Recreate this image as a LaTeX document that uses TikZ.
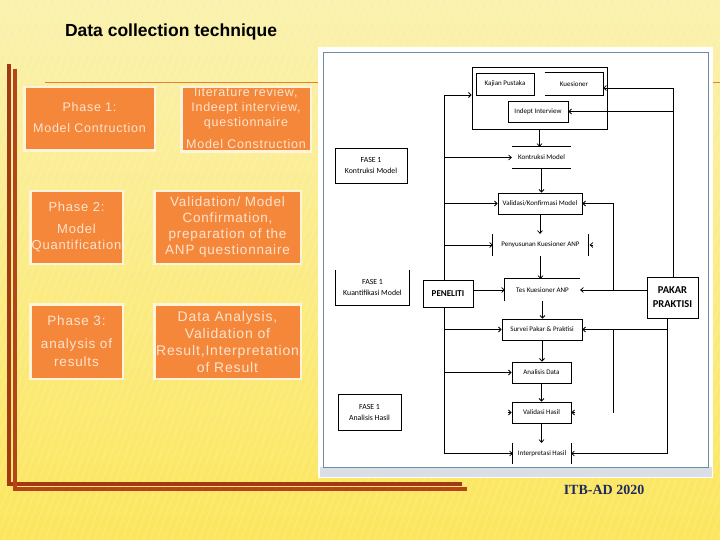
\documentclass[tikz,border=0pt]{standalone}
\usepackage{fontspec}
\setmainfont{Liberation Sans}
\newfontfamily\boxfont[LetterSpace=6]{Liberation Sans}
\newfontfamily\flowfont{Carlito}
\newfontfamily\serifb{Liberation Serif}
\usetikzlibrary{arrows.meta}
\definecolor{bgtop}{HTML}{FAF1AE}
\definecolor{bgbot}{HTML}{FCE65C}
\definecolor{boxorange}{HTML}{F5873A}
\definecolor{boxborder}{HTML}{FDF4DA}
\definecolor{boxtext}{HTML}{FDE4CF}
\definecolor{rulecol}{HTML}{E4803C}
\definecolor{brownA}{HTML}{A23914}
\definecolor{brownB}{HTML}{B5441C}
\definecolor{framecol}{HTML}{6F8DA2}
\definecolor{stripcol}{HTML}{D9DFE4}
\definecolor{itbcol}{HTML}{1F2B5E}
\tikzset{
  obox/.style={draw=boxborder, line width=2.5pt, fill=boxorange, inner sep=0pt},
  otext/.style={text=boxtext, align=center, inner sep=0pt},
  fbox/.style={draw=black, line width=0.8pt, fill=white, inner sep=0pt, align=center,
               font=\flowfont\fontsize{7}{8.5}\selectfont},
  fnone/.style={inner sep=0pt, align=center, font=\flowfont\fontsize{7}{8.5}\selectfont},
  fase/.style={inner sep=0pt, align=center, font=\flowfont\fontsize{7.8}{11}\selectfont},
  ln/.style={line width=0.8pt},
  arr/.style={line width=0.8pt, -{Straight Barb[length=2.6pt,width=5pt]}},
}
\begin{document}
\begin{tikzpicture}[x=1pt,y=-1pt]
\useasboundingbox (0,0) rectangle (720,540);
% background
\shade[top color=bgtop, bottom color=bgbot] (0,0) rectangle (720,540);
\begin{scope}
\clip (0,0) rectangle (720,540);
\foreach \i in {-200,-193,...,720} \draw[white, opacity=0.16, line width=1.2pt] (\i,540) -- (\i+200,0);
\end{scope}
% title
\node[font=\bfseries\fontsize{17.5}{20}\selectfont, inner sep=0pt] (title) at (171,32) {Data collection technique};
% rules
\draw[rulecol, line width=1.5pt] (45,82.5) -- (720,82.5);
\draw[brownA, line width=3.5pt] (9,64) -- (9,484) -- (462,484);
\draw[brownB, line width=4pt] (15,69) -- (15,489) -- (467,489);
% orange boxes
\node[obox, minimum width=130.5pt, minimum height=63.5pt] (b1) at (89.5,119) {};
\node[obox, minimum width=129.5pt, minimum height=64.5pt] (b2) at (246,119.5) {};
\node[obox, minimum width=92.5pt, minimum height=72.5pt] (b3) at (76.5,227.5) {};
\node[obox, minimum width=146.5pt, minimum height=72.5pt] (b4) at (227.5,227.5) {};
\node[obox, minimum width=92.5pt, minimum height=74.5pt] (b5) at (76.5,341.5) {};
\node[obox, minimum width=146.5pt, minimum height=74.5pt] (b6) at (227.5,341.5) {};
\node[otext, font=\boxfont\fontsize{12.5}{16}\selectfont] (t1) at (89.5,117.5) {Phase 1:\\[5pt]Model Contruction};
\begin{scope}
\clip ([shift={(1.3,1.3)}]b2.north west) rectangle ([shift={(-1.3,-1.3)}]b2.south east);
\node[otext, font=\boxfont\fontsize{12.5}{15}\selectfont] (t2) at (246,118) {literature review,\\Indeept interview,\\questionnaire\\[7pt]Model Construction};
\end{scope}
\node[otext, font=\boxfont\fontsize{13}{16}\selectfont] (t3) at (76.5,227) {Phase 2:\\[6pt]Model\\Quantification};
\node[otext, font=\boxfont\fontsize{13.5}{16}\selectfont] (t4) at (227.5,227) {Validation/ Model\\Confirmation,\\preparation of the\\ANP questionnaire};
\node[otext, font=\boxfont\fontsize{13.5}{18}\selectfont] (t5) at (76.5,341.5) {Phase 3:\\[5pt]analysis of\\results};
\begin{scope}
\clip ([shift={(1.3,1.3)}]b6.north west) rectangle ([shift={(-1.3,-1.3)}]b6.south east);
\node[otext, font=\boxfont\fontsize{14}{17}\selectfont] (t6) at (227.5,341.5) {Data Analysis,\\Validation of\\Result,Interpretation\\of Result};
\end{scope}
% panel
\fill[white] (318,47) rectangle (713,478);
\fill[stripcol] (320,467) rectangle (712,477);
\draw[framecol, line width=1pt] (323,53) rectangle (708,467);
% flow nodes
\node[fbox, minimum width=135pt, minimum height=62pt] (big) at (539.5,98) {};
\node[fbox, minimum width=58pt, minimum height=22pt] (kaj) at (505,84) {Kajian Pustaka};
\node[fnone, minimum width=58pt, minimum height=22pt] (kue) at (574,84) {Kuesioner};
\draw[ln] (kue.north west) -- (kue.north east) -- (kue.south east) -- (kue.south west);
\node[fbox, minimum width=60pt, minimum height=21pt] (ind) at (538,111.5) {Indept Interview};
\node[fnone, minimum width=59pt, minimum height=21pt] (kon) at (541.5,157.5) {Kontruksi Model};
\draw[ln] (kon.north west) -- (kon.north east) (kon.south west) -- (kon.south east);
\node[fbox, minimum width=84pt, minimum height=21pt] (val) at (540,203.5) {Validasi/Konfirmasi Model};
\node[fnone, minimum width=95pt, minimum height=22pt] (pen) at (540.5,245) {Penyusunan Kuesioner ANP};
\draw[ln] (pen.north west) -- (pen.south west) (pen.north east) -- (pen.south east);
\node[fnone, minimum width=75pt, minimum height=22pt] (tes) at (542.5,290) {Tes Kuesioner ANP};
\draw[ln] (tes.south west) -- (tes.north west) -- (tes.north east);
\node[fbox, minimum width=80pt, minimum height=21pt] (sur) at (542,329.5) {Survei Pakar \& Praktisi};
\node[fbox, minimum width=59pt, minimum height=21pt] (ana) at (541.5,372.5) {Analisis Data};
\node[fbox, minimum width=59pt, minimum height=21pt] (vh) at (541.5,412.5) {Validasi Hasil};
\node[fnone, minimum width=58pt, minimum height=21pt] (int) at (542,453.5) {Interpretasi Hasil};
\draw[ln] (int.north west) -- (int.south west) (int.north east) -- (int.south east);
\node[fase, draw=black, line width=0.8pt, minimum width=72pt, minimum height=35pt] (f1) at (371,165.5) {FASE 1\\Kontruksi Model};
\node[fase, minimum width=73pt, minimum height=35pt] (f2) at (372.5,287.5) {FASE 1\\Kuantifikasi Model};
\draw[ln] (f2.north west) -- (f2.south west) -- (f2.south east) -- (f2.north east);
\node[fase, draw=black, line width=0.8pt, minimum width=63pt, minimum height=36pt] (f3) at (369.5,412) {FASE 1\\Analisis Hasil};
% left bus
\coordinate (busT) at (444,95);
\draw[ln] (busT) -- (busT |- int.west);
\draw[arr] (busT) -- (busT -| big.west);
\foreach \n in {kon,val,pen,sur,ana,int} \draw[arr] (busT |- \n.west) -- (\n.west);
\node[fbox, font=\flowfont\bfseries\fontsize{9}{10}\selectfont, minimum width=50pt, minimum height=27pt] (pnl) at (448,294) {PENELITI};
\draw[arr] (pnl.east |- tes.west) -- (tes.west);
% right side
\node[fbox, font=\flowfont\bfseries\fontsize{10.5}{14}\selectfont, minimum width=51pt, minimum height=41pt] (pak) at (672.5,297.5) {PAKAR\\PRAKTISI};
\coordinate (rbT) at (673,88);
\draw[ln] (rbT) -- (rbT |- pak.north);
\draw[arr] (rbT) -- (rbT -| kue.east);
\draw[arr] (rbT |- ind.east) -- (ind.east);
\coordinate (vj) at (613,0);
\draw[ln] (vj |- val.east) -- (vj |- tes.east);
\draw[arr] (vj |- val.east) -- (val.east);
\draw[arr] (pak.west |- tes.east) -- (tes.east);
\coordinate (pb) at (667,0);
\draw[ln] (pb |- pak.south) -- (pb |- int.east);
\draw[arr] (pb |- int.east) -- (int.east);
\draw[arr] (pb |- sur.east) -- (sur.east);
\draw[ln] (vj |- sur.east) -- (vj |- vh.east);
% vertical flow
\draw[arr] (big.south) -- (big.south |- kon.north);
\draw[arr] (kon.south) -- (kon.south |- val.north);
\draw[arr] (val.south) -- (val.south |- pen.north);
\draw[arr] (pen.south) -- (pen.south |- tes.north);
\draw[arr] (tes.south) -- (tes.south |- sur.north);
\draw[arr] (sur.south) -- (sur.south |- ana.north);
\draw[arr] (ana.south) -- (ana.south |- vh.north);
\draw[arr] (vh.south) -- (vh.south |- int.north);
% lone arrow tips
\draw[arr] ([xshift=5pt]pen.east) -- ([xshift=1.5pt]pen.east);
\draw[arr] ([xshift=4pt]vh.east) -- (vh.east);
\draw[arr] ([xshift=-4pt]vh.west) -- (vh.west);
% footer
\node[font=\serifb\bfseries\fontsize{14}{16}\selectfont, text=itbcol, inner sep=0pt] (itb) at (604,490) {ITB-AD 2020};
\end{tikzpicture}
\end{document}
